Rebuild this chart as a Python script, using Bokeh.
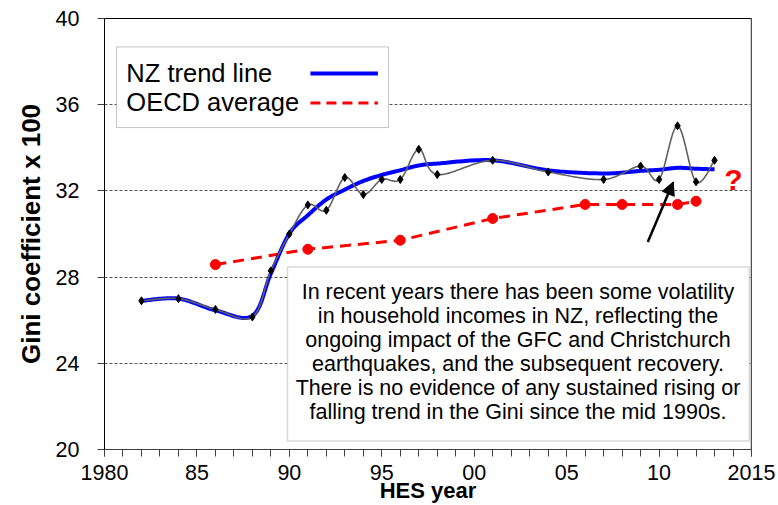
import numpy as np
from bokeh.plotting import figure
from bokeh.models import (Range1d, FixedTicker, Label, BoxAnnotation, Arrow,
                          NormalHead, Span)
from bokeh.embed import file_html
from bokeh.resources import INLINE

# ---------------- data ----------------
hes_years = [1982, 1984, 1986, 1988, 1989, 1990, 1991, 1992, 1993, 1994, 1995,
             1996, 1997, 1998, 2001, 2004, 2007, 2009, 2010, 2011, 2012, 2013]
nz_gini = [26.90, 27.00, 26.50, 26.15, 28.29, 30.00, 31.35, 31.10, 32.62, 31.83, 32.53,
           32.53, 33.93, 32.76, 33.42, 32.88, 32.53, 33.15, 32.53, 35.02, 32.42, 33.42]
nz_trend = [26.90, 27.00, 26.46, 26.20, 28.17, 30.02, 30.87, 31.60, 32.06, 32.46, 32.74,
            32.96, 33.18, 33.27, 33.42, 32.96, 32.81, 32.93, 32.98, 33.07, 33.03, 33.00]
oecd_years = [1986, 1991, 1996, 2001, 2006, 2008, 2011, 2012]
oecd_gini = [28.58, 29.29, 29.71, 30.72, 31.37, 31.37, 31.37, 31.52]

x_tick_values = [1980, 1985, 1990, 1995, 2000, 2005, 2010, 2015]
x_tick_labels = ["1980", "85", "90", "95", "00", "05", "10", "2015"]
y_tick_values = [20, 24, 28, 32, 36, 40]
grid_values = [24, 28, 32, 36]

legend_labels = ["NZ trend line", "OECD average"]
note_lines = [
    "In recent years there has been some volatility",
    "in household incomes in NZ, reflecting the",
    "ongoing impact of the GFC and Christchurch",
    "earthquakes, and the subsequent recovery.",
    "There is no evidence of any sustained rising or",
    "falling trend in the Gini since the mid 1990s.",
]

FONT = "Liberation Sans"


def smooth(xs, ys, n=24):
    """Excel-like smoothed line (Catmull-Rom as cubic Bezier)."""
    P = np.column_stack([xs, ys]).astype(float)
    P = np.vstack([P[0], P, P[-1]])
    out = []
    last = len(P) - 3
    for i in range(1, len(P) - 2):
        p0, p1, p2, p3 = P[i - 1], P[i], P[i + 1], P[i + 2]
        c1 = p1 + (p2 - p0) / 6.0
        c2 = p2 - (p3 - p1) / 6.0
        t = np.linspace(0, 1, n, endpoint=(i == last))[:, None]
        B = ((1 - t) ** 3) * p1 + 3 * ((1 - t) ** 2) * t * c1 + 3 * (1 - t) * t ** 2 * c2 + t ** 3 * p2
        out.append(B)
    B = np.vstack(out)
    return B[:, 0], B[:, 1]


p = figure(width=778, height=505,
           x_range=Range1d(1980, 2015), y_range=Range1d(20, 40),
           output_backend="svg", toolbar_location=None,
           min_border_left=104, min_border_right=27,
           min_border_top=18, min_border_bottom=56)
p.background_fill_color = "white"
p.border_fill_color = "white"
p.outline_line_color = "black"
p.outline_line_width = 1

# axes
xa = p.xaxis[0]
xa.ticker = FixedTicker(ticks=x_tick_values, minor_ticks=list(range(1980, 2016)))
xa.major_label_overrides = {v: l for v, l in zip(x_tick_values, x_tick_labels)}
xa.major_tick_out = 7
xa.major_tick_in = 0
xa.minor_tick_out = 7
xa.minor_tick_in = 0
xa.major_tick_line_color = "#404040"
xa.minor_tick_line_color = "#404040"
xa.axis_line_color = "#404040"
xa.major_label_text_font = FONT
xa.major_label_text_font_size = "21.5px"
xa.major_label_text_color = "black"
xa.major_label_standoff = 8
xa.axis_label = "HES year"
xa.axis_label_text_font = FONT
xa.axis_label_text_font_size = "22px"
xa.axis_label_text_font_style = "bold"
xa.axis_label_text_color = "black"
xa.axis_label_standoff = -5

ya = p.yaxis[0]
ya.ticker = FixedTicker(ticks=y_tick_values, minor_ticks=[])
ya.major_tick_out = 7
ya.major_tick_in = 0
ya.minor_tick_line_color = None
ya.major_tick_line_color = "#404040"
ya.axis_line_color = "black"
ya.major_label_text_font = FONT
ya.major_label_text_font_size = "21.5px"
ya.major_label_text_color = "black"
ya.major_label_standoff = 18
ya.axis_label = "Gini coefficient x 100"
ya.axis_label_text_font = FONT
ya.axis_label_text_font_size = "26px"
ya.axis_label_text_font_style = "bold"
ya.axis_label_text_color = "black"
ya.axis_label_standoff = 7

p.xgrid.grid_line_color = None
p.ygrid.ticker = FixedTicker(ticks=grid_values)
p.ygrid.grid_line_color = "#555555"
p.ygrid.grid_line_dash = "3 2"
p.ygrid.grid_line_width = 1

# right plot-area edge (grey)
p.add_layout(Span(location=2015, dimension="height", line_color="#a0a0a0", line_width=2))

# OECD average
p.line(oecd_years, oecd_gini, line_color="#FF0000", line_width=3, line_dash="11 7")
p.scatter(oecd_years, oecd_gini, marker="circle", size=10, fill_color="#FF0000",
          line_color="#FF0000")

# NZ trend line
tx, ty = smooth(hes_years, nz_trend)
p.line(tx, ty, line_color="#0000FF", line_width=4)

# NZ Gini actual (smoothed grey line + diamonds)
gx, gy = smooth(hes_years, nz_gini)
p.line(gx, gy, line_color="#606060", line_width=1.6)
p.scatter(hes_years, nz_gini, marker="diamond", size=8, fill_color="black",
          line_color="black")

# legend box
p.add_layout(BoxAnnotation(left=1980.65, right=1995.36, top=38.68, bottom=34.94,
                           fill_color="white", fill_alpha=1.0,
                           line_color="#404040", line_width=1))
for lab, yy in zip(legend_labels, [37.48, 36.12]):
    p.add_layout(Label(x=1981.18, y=yy, text=lab, text_font=FONT,
                       text_font_size="25.5px", text_baseline="middle",
                       text_align="left", text_color="black"))
p.add_layout(Arrow(end=None, x_start=1991.14, y_start=37.45, x_end=1994.79, y_end=37.45,
                   line_color="#0000FF", line_width=4))
p.add_layout(Arrow(end=None, x_start=1991.14, y_start=36.08, x_end=1994.79, y_end=36.08,
                   line_color="#FF0000", line_width=3, line_dash="10 6"))

# note box
p.add_layout(BoxAnnotation(left=1989.9, right=2014.88, top=28.47, bottom=20.40,
                           fill_color="white", fill_alpha=1.0,
                           line_color="#808080", line_width=1.5))
y0 = 27.31
step = 1.1137
for i, line in enumerate(note_lines):
    p.add_layout(Label(x=2002.37, y=y0 - i * step, text=line, text_font=FONT,
                       text_font_size="21.5px", text_baseline="middle",
                       text_align="center", text_color="black"))

# arrow and question mark
p.add_layout(Arrow(end=NormalHead(size=13, fill_color="black", line_color="black"),
                   x_start=2009.39, y_start=29.63, x_end=2010.77, y_end=32.42,
                   line_color="black", line_width=2.5))
p.add_layout(Label(x=2014.02, y=32.54, text="?", text_font=FONT, text_font_size="30px",
                   text_font_style="bold", text_color="#FF0000",
                   text_align="center", text_baseline="middle"))

open("out.html", "w").write(file_html(p, INLINE))
